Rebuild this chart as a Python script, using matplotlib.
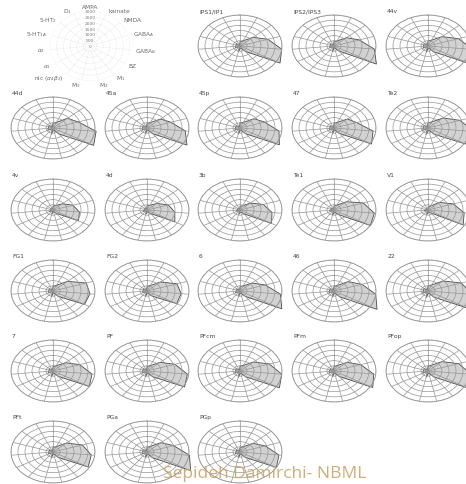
import numpy as np
import matplotlib.pyplot as plt

# receptors, clockwise from the top
receptors = ['AMPA', 'kainate', 'NMDA', 'GABA$_A$', 'GABA$_B$', 'BZ',
             'M$_1$', 'M$_2$', 'M$_3$', r'nic ($\alpha_4\beta_2$)',
             r'$\alpha_1$', r'$\alpha_2$', '5-HT$_{1A}$', '5-HT$_2$', 'D$_1$']

areas = ['IPS1/IP1', 'IPS2/IPS3', '44v',
         '44d', '45a', '45p', '47', 'Te2',
         '4v', '4d', '3b', 'Te1', 'V1',
         'FG1', 'FG2', '6', '46', '22',
         '7', 'PF', 'PFcm', 'PFm', 'PFop',
         'PFt', 'PGa', 'PGp']

# receptor densities (fmol/mg protein), one entry per area
ampa    = [420, 450, 480, 460, 430, 470, 440, 510, 380, 400, 350, 390, 300,
           450, 430, 420, 460, 490, 410, 440, 450, 430, 470, 440, 460, 430]
kainate = [560, 540, 620, 600, 580, 600, 610, 650, 480, 500, 460, 520, 420,
           600, 580, 540, 590, 640, 560, 570, 600, 580, 610, 570, 600, 560]
nmda    = [1250, 1200, 1350, 1400, 1300, 1350, 1300, 1450, 900, 950, 1000, 1200, 1100,
           1400, 1300, 1150, 1350, 1450, 1200, 1250, 1300, 1250, 1350, 1300, 1350, 1250]
gaba_a  = [2100, 1900, 2300, 1900, 1800, 1850, 1700, 2400, 1500, 1600, 1750, 2200, 1900,
           2500, 2250, 1900, 2100, 2500, 2000, 2100, 2200, 2000, 2300, 2200, 2000, 1900]
gaba_b  = [3000, 2900, 3200, 3100, 2750, 2800, 2800, 3300, 1900, 2000, 2300, 2900, 2600,
           2650, 2450, 2900, 3000, 3200, 2800, 2900, 3000, 2850, 3100, 2750, 3050, 2800]
bz      = [3300, 3500, 3400, 3350, 3300, 3250, 3100, 3100, 2100, 2300, 2600, 3000, 2900,
           2600, 2450, 3450, 3550, 3500, 3000, 3100, 3250, 3200, 3300, 2900, 3600, 3000]
m1      = [650, 600, 700, 720, 680, 700, 650, 750, 400, 420, 450, 550, 350,
           650, 600, 650, 700, 750, 650, 680, 700, 660, 720, 650, 700, 640]
m2      = [180, 170, 200, 190, 170, 180, 170, 210, 160, 170, 190, 220, 250,
           170, 160, 180, 190, 200, 180, 190, 200, 190, 200, 180, 190, 180]
m3      = [600, 580, 640, 650, 600, 620, 600, 680, 400, 420, 430, 520, 450,
           620, 580, 560, 620, 680, 600, 610, 640, 600, 650, 600, 620, 590]
nic     = [60, 55, 65, 60, 55, 60, 55, 70, 50, 50, 60, 70, 80,
           55, 50, 55, 60, 65, 60, 60, 65, 60, 65, 60, 60, 55]
alpha1  = [380, 360, 400, 420, 400, 410, 390, 420, 300, 320, 280, 320, 200,
           360, 340, 380, 410, 420, 390, 400, 410, 400, 420, 390, 400, 380]
alpha2  = [320, 300, 340, 350, 330, 340, 320, 360, 200, 220, 240, 300, 280,
           330, 310, 300, 340, 360, 320, 330, 340, 330, 350, 320, 340, 310]
ht1a    = [280, 260, 320, 330, 310, 320, 300, 350, 150, 160, 120, 200, 100,
           300, 280, 240, 320, 340, 290, 300, 310, 300, 320, 290, 310, 280]
ht2     = [340, 330, 360, 370, 350, 360, 340, 380, 250, 260, 220, 300, 180,
           350, 330, 320, 360, 380, 340, 350, 360, 350, 370, 340, 360, 330]
d1      = [70, 65, 75, 80, 75, 80, 70, 80, 50, 55, 50, 60, 40,
           70, 65, 60, 75, 80, 70, 70, 75, 70, 75, 70, 75, 65]

ring_ticks = [500, 1000, 1500, 2000, 2500, 3000]
rmax = 3000

dens = np.array([ampa, kainate, nmda, gaba_a, gaba_b, bz, m1, m2, m3,
                 nic, alpha1, alpha2, ht1a, ht2, d1], dtype=float).T
theta = np.linspace(0, 2 * np.pi, len(receptors), endpoint=False)

W, H = 466, 485
fig = plt.figure(figsize=(W / 100, H / 100), dpi=100)
fig.patch.set_facecolor('white')

col_x = [53, 147, 240, 334, 428]
row_y = [47, 129, 211, 292, 372, 453]


def polar_at(cx, cy, w=84, h=62):
    ax = fig.add_axes([(cx - w / 2) / W, 1 - (cy + h / 2) / H, w / W, h / H],
                      projection='polar')
    ax.set_aspect('auto')
    ax.set_theta_zero_location('N')
    ax.set_theta_direction(-1)
    ax.set_xticks(theta)
    ax.set_xticklabels([])
    ax.set_yticks(ring_ticks)
    ax.set_yticklabels([])
    ax.set_ylim(0, rmax)
    ax.tick_params(pad=0)
    return ax


# legend fingerprint with receptor names
leg = polar_at(90, 47, 80, 70)
leg.grid(color='#d0d0d0', lw=0.4, ls=':')
leg.spines['polar'].set_visible(False)
for t, name in zip(theta, receptors):
    deg = np.degrees(t) % 360
    if deg < 1 or deg > 359:
        ha = 'center'
    elif deg < 180:
        ha = 'left'
    elif abs(deg - 180) < 1:
        ha = 'center'
    else:
        ha = 'right'
    leg.text(t, rmax * 1.12, name, fontsize=4.2, color='#6a6a6a',
             ha=ha, va='center', clip_on=False)
for r in [0] + ring_ticks:
    leg.text(0, r, str(r), fontsize=3.2, color='#7a7a7a', ha='center',
             va='center', clip_on=False,
             bbox=dict(facecolor='white', edgecolor='none', pad=0.2))

# receptor fingerprints of each area
slots = [(0, 2), (0, 3), (0, 4)] + [(r, c) for r in range(1, 6) for c in range(5)]
for (row, col), name, vals in zip(slots, areas, dens):
    cx, cy = col_x[col], row_y[row]
    ax = polar_at(cx, cy)
    ax.grid(color='#959595', lw=0.5)
    ax.spines['polar'].set_color('#959595')
    ax.spines['polar'].set_linewidth(0.6)
    ax.fill(np.append(theta, theta[0]), np.append(vals, vals[0]),
            facecolor='#cdcdcd', edgecolor='#3a3a3a', lw=0.6,
            alpha=0.9, clip_on=False, zorder=1)
    fig.text((cx - 41) / W, 1 - (cy - 33) / H, name, fontsize=4.3,
             color='#444444', ha='left', va='bottom')

fig.text(265 / W, 1 - 474 / H, 'Sepideh Damirchi- NBML', fontsize=12.5,
         family='Open Sans', color='#c9a56a', alpha=0.9,
         ha='center', va='center')

fig.savefig('out.png', dpi=100)
